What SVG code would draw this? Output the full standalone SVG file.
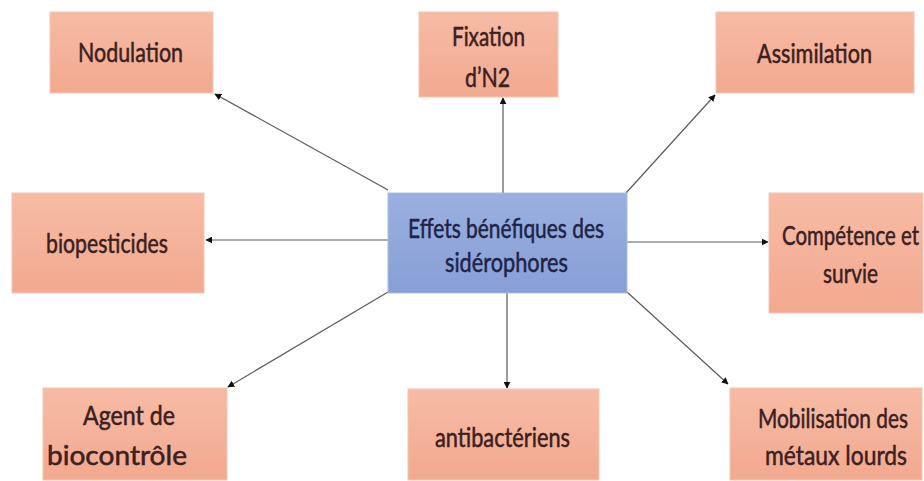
<svg xmlns="http://www.w3.org/2000/svg" width="924" height="481" viewBox="0 0 924 481">
<defs>
<linearGradient id="gs" x1="0" y1="0" x2="0" y2="1">
<stop offset="0" stop-color="#F7BBA5"/>
<stop offset="1" stop-color="#F2A98F"/>
</linearGradient>
<linearGradient id="gb" x1="0" y1="0" x2="0" y2="1">
<stop offset="0" stop-color="#9AB0E0"/>
<stop offset="1" stop-color="#889FD6"/>
</linearGradient>
<marker id="ah" viewBox="0 0 10 10" refX="9" refY="5" markerWidth="7" markerHeight="7" orient="auto" markerUnits="userSpaceOnUse">
<path d="M0,0 L10,5 L0,10 z" fill="#111"/>
</marker>
</defs>
<style>
.s{fill:url(#gs);stroke:#F0C8B4;stroke-width:1}
.b{fill:url(#gb);stroke:#A9BBE6;stroke-width:1}
.t{font-family:Lato,"Open Sans","Liberation Sans",sans-serif;font-size:21px;fill:#3A2020;stroke:#3A2020;stroke-width:0.4}
.tb{font-family:Lato,"Open Sans","Liberation Sans",sans-serif;font-size:21px;fill:#1F2345;stroke:#1F2345;stroke-width:0.4}
.c{stroke:#5A5A5A;stroke-width:1.2;fill:none;marker-end:url(#ah)}
</style>
<rect width="924" height="481" fill="#FFFFFF"/>
<g id="connectors">
<line class="c" x1="388" y1="190" x2="215" y2="94"/>
<line class="c" x1="503" y1="193" x2="503" y2="98"/>
<line class="c" x1="626" y1="193" x2="715" y2="95"/>
<line class="c" x1="388" y1="240" x2="206" y2="240"/>
<line class="c" x1="627" y1="242" x2="768" y2="242"/>
<line class="c" x1="388" y1="292" x2="228" y2="387"/>
<line class="c" x1="507" y1="293" x2="507" y2="388"/>
<line class="c" x1="627" y1="292" x2="728" y2="384"/>
</g>
<g id="center">
<rect class="b" x="388" y="193" width="239" height="100"/>
<text class="tb" transform="translate(0,238) scale(1,1.29)" x="408" y="0" textLength="196" lengthAdjust="spacingAndGlyphs">Effets bénéfiques des</text>
<text class="tb" transform="translate(0,272) scale(1,1.29)" x="445" y="0" textLength="123" lengthAdjust="spacingAndGlyphs">sidérophores</text>
</g>
<g id="nodulation">
<rect class="s" x="50" y="12" width="163" height="81"/>
<text class="t" transform="translate(0,62) scale(1,1.29)" x="78" y="0" textLength="105" lengthAdjust="spacingAndGlyphs">Nodulation</text>
</g>
<g id="fixation">
<rect class="s" x="419" y="12" width="139" height="85"/>
<text class="t" transform="translate(0,46) scale(1,1.29)" x="452" y="0" textLength="73" lengthAdjust="spacingAndGlyphs">Fixation</text>
<text class="t" transform="translate(0,87) scale(1,1.29)" x="465" y="0" textLength="45" lengthAdjust="spacingAndGlyphs">d’N2</text>
</g>
<g id="assimilation">
<rect class="s" x="716" y="12" width="198" height="81"/>
<text class="t" transform="translate(0,63) scale(1,1.29)" x="757" y="0" textLength="115" lengthAdjust="spacingAndGlyphs">Assimilation</text>
</g>
<g id="biopesticides">
<rect class="s" x="12" y="193" width="192" height="100"/>
<text class="t" transform="translate(0,253) scale(1,1.29)" x="46" y="0" textLength="122" lengthAdjust="spacingAndGlyphs">biopesticides</text>
</g>
<g id="competence">
<rect class="s" x="769" y="193" width="154" height="120"/>
<text class="t" transform="translate(0,245) scale(1,1.29)" x="782" y="0" textLength="137" lengthAdjust="spacingAndGlyphs">Compétence et</text>
<text class="t" transform="translate(0,283) scale(1,1.29)" x="823" y="0" textLength="55" lengthAdjust="spacingAndGlyphs">survie</text>
</g>
<g id="agent">
<rect class="s" x="43" y="388" width="184" height="92"/>
<text class="t" transform="translate(0,425) scale(1,1.29)" x="83" y="0" textLength="92" lengthAdjust="spacingAndGlyphs">Agent de</text>
<text class="t" transform="translate(0,465) scale(1,1.29)" x="47" y="0" textLength="140" lengthAdjust="spacingAndGlyphs">biocontrôle</text>
</g>
<g id="antibacteriens">
<rect class="s" x="408" y="389" width="191" height="91"/>
<text class="t" transform="translate(0,447) scale(1,1.29)" x="435" y="0" textLength="135" lengthAdjust="spacingAndGlyphs">antibactériens</text>
</g>
<g id="mobilisation">
<rect class="s" x="730" y="388" width="192" height="92"/>
<text class="t" transform="translate(0,428) scale(1,1.29)" x="758" y="0" textLength="150" lengthAdjust="spacingAndGlyphs">Mobilisation des</text>
<text class="t" transform="translate(0,465) scale(1,1.29)" x="765" y="0" textLength="142" lengthAdjust="spacingAndGlyphs">métaux lourds</text>
</g>
</svg>
